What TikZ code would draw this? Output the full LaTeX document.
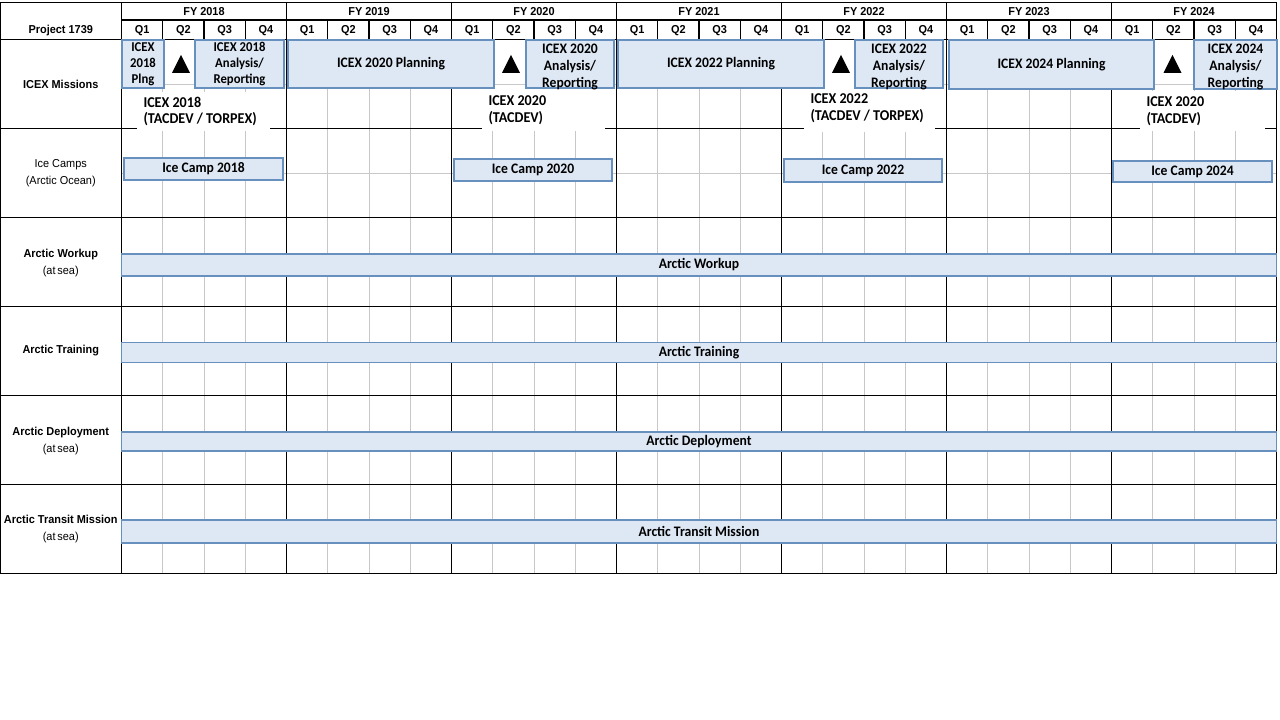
\documentclass[tikz,border=0pt]{standalone}
\usepackage{fontspec}
\usetikzlibrary{shapes.geometric}
\newfontfamily\hdfont[FakeStretch=0.95]{Liberation Sans}
\newfontfamily\taskfont[FakeStretch=0.94]{Carlito}
\definecolor{taskfill}{HTML}{DEE8F5}
\definecolor{taskedge}{HTML}{6890BE}
\definecolor{gridgray}{HTML}{C8C8C8}

\begin{document}
\begin{tikzpicture}[x=1pt, y=-1pt,
  major/.style={line width=1.1pt, black},
  minor/.style={line width=0.8pt, gridgray},
  hdr/.style={inner sep=0pt, font=\hdfont\bfseries\fontsize{11.5}{13}\selectfont},
  rowlab/.style={inner sep=0pt, align=center, font=\hdfont\fontsize{11.5}{17}\selectfont},
  task/.style={draw=taskedge, fill=taskfill, line width=1.2pt, inner sep=0pt, align=center,
    font=\taskfont\bfseries\fontsize{14.5}{17}\selectfont},
  tasksm/.style={task, font=\taskfont\bfseries\fontsize{13.5}{16}\selectfont},
  tasklab/.style={inner sep=0pt, align=center, yshift=-2.5pt,
    font=\taskfont\bfseries\fontsize{14.5}{17}\selectfont},
  bar/.style={task, minimum width=1155pt},
  event/.style={fill=white, inner xsep=7pt, inner ysep=0pt, align=flush left,
    font=\taskfont\bfseries\fontsize{15}{16.5}\selectfont},
  milestone/.style={isosceles triangle, shape border rotate=90, isosceles triangle stretches,
    fill=black, inner sep=0pt, minimum width=18pt, minimum height=18pt},
]
\useasboundingbox[fill=white] (0,0) rectangle (1280,720);

% ---- grid: quarter lines and half-row lines
\foreach \k in {0,...,6}{
  \foreach \q in {1,2,3}{
    \draw[minor] ({121.5+165*\k+41.25*\q},39.5) -- ({121.5+165*\k+41.25*\q},573.5);
    \draw[major] ({121.5+165*\k+41.25*\q},20) -- ({121.5+165*\k+41.25*\q},39.5);
  }
}
\foreach \r in {0,...,5}
  \draw[minor] (121.5,{84+89*\r}) -- (1276.5,{84+89*\r});

% ---- grid: year columns and row borders
\foreach \k in {0,...,7}
  \draw[major] ({121.5+165*\k},2.5) -- ({121.5+165*\k},573.5);
\draw[major] (0.5,2.5) -- (0.5,573.5);
\draw[major] (0,2.5) -- (1277,2.5);
\draw[major] (121.5,20) -- (1277,20);
\draw[major, line width=1.8pt] (0,39.5) -- (1277,39.5);
\foreach \r in {1,...,6}
  \draw[major] (0,{39.5+89*\r}) -- (1277,{39.5+89*\r});

% ---- header
\node[hdr] (proj) at (60.75,31) {Project 1739};
\foreach \yr [count=\k from 0] in {2018,...,2024}{
  \node[hdr] (fy\yr) at ({204+165*\k},12) {FY \yr};
  \foreach \q in {1,...,4}
    \node[hdr] (q\yr\q) at ({121.5+165*\k+41.25*\q-20.625},31) {Q\q};
}

% ---- row labels
\node[rowlab, font=\hdfont\bfseries\fontsize{11.5}{17}\selectfont] (rmis) at (60.75,84) {ICEX Missions};
\node[rowlab] (rcamp) at (60.75,173.5) {Ice Camps\\(Arctic Ocean)};
\node[rowlab] (rwork) at (60.75,263.5) {\bfseries Arctic Workup\\(at\,sea)};
\node[rowlab, font=\hdfont\bfseries\fontsize{11.5}{17}\selectfont] (rtrain) at (60.75,351) {Arctic Training};
\node[rowlab] (rdep) at (60.75,441) {\bfseries Arctic Deployment\\(at\,sea)};
\node[rowlab] (rtran) at (60.75,529.5) {\bfseries Arctic Transit Mission\\(at\,sea)};

% ---- mission events (white callouts over the row border)
\node[event, text width=119pt, minimum height=39pt] (ev18) at (203,111.5) {ICEX 2018\\(TACDEV / TORPEX)};
\node[event, text width=109pt, minimum height=42pt] (ev20) at (543,110) {ICEX 2020\\(TACDEV)};
\node[event, text width=117pt, minimum height=48pt] (ev22) at (869,108) {ICEX 2022\\(TACDEV / TORPEX)};
\node[event, text width=111pt, minimum height=40pt] (ev24) at (1202,111) {ICEX 2020\\(TACDEV)};

% ---- ICEX mission tasks
\node[tasksm, minimum width=42pt, minimum height=48pt] (plng18) at (143,64) {ICEX\\2018\\Plng};
\node[tasksm, minimum width=89pt, minimum height=48pt] (ana18) at (239.5,64) {ICEX 2018\\Analysis/\\Reporting};
\node[task, minimum width=206pt, minimum height=48pt] (plan20) at (391,64) {ICEX 2020 Planning};
\node[task, minimum width=88pt, minimum height=48pt,
  label={[tasklab]center:{ICEX 2020\\Analysis/\\Reporting}}] (ana20) at (570,64) {};
\node[task, minimum width=206pt, minimum height=48pt] (plan22) at (721,64) {ICEX 2022 Planning};
\node[task, minimum width=88pt, minimum height=48pt,
  label={[tasklab]center:{ICEX 2022\\Analysis/\\Reporting}}] (ana22) at (899,64) {};
\node[task, minimum width=205pt, minimum height=49pt] (plan24) at (1051.5,64.5) {ICEX 2024 Planning};
\node[task, minimum width=83pt, minimum height=49pt,
  label={[tasklab]center:{ICEX 2024\\Analysis/\\Reporting}}] (ana24) at (1235.5,64.5) {};

% ---- milestones
\node[milestone, anchor=south] (m18) at (181,73) {};
\node[milestone, anchor=south] (m20) at (511,73) {};
\node[milestone, anchor=south] (m22) at (841,73) {};
\node[milestone, anchor=south] (m24) at (1172.5,73) {};

% ---- ice camps
\node[task, minimum width=159pt, minimum height=22pt] (ic18) at (203.5,169) {Ice Camp 2018};
\node[task, minimum width=158pt, minimum height=22pt] (ic20) at (533,170) {Ice Camp 2020};
\node[task, minimum width=158pt, minimum height=23pt] (ic22) at (863,170.5) {Ice Camp 2022};
\node[task, minimum width=159pt, minimum height=21pt] (ic24) at (1192.5,171.5) {Ice Camp 2024};

% ---- continuous activities
\node[bar, minimum height=22pt] (workup) at (699,265) {Arctic Workup};
\node[bar, minimum height=20pt] (training) at (699,352.5) {Arctic Training};
\node[bar, minimum height=19pt] (deploy) at (699,441.5) {Arctic Deployment};
\node[bar, minimum height=23pt] (transit) at (699,531.5) {Arctic Transit Mission};
\end{tikzpicture}
\end{document}
